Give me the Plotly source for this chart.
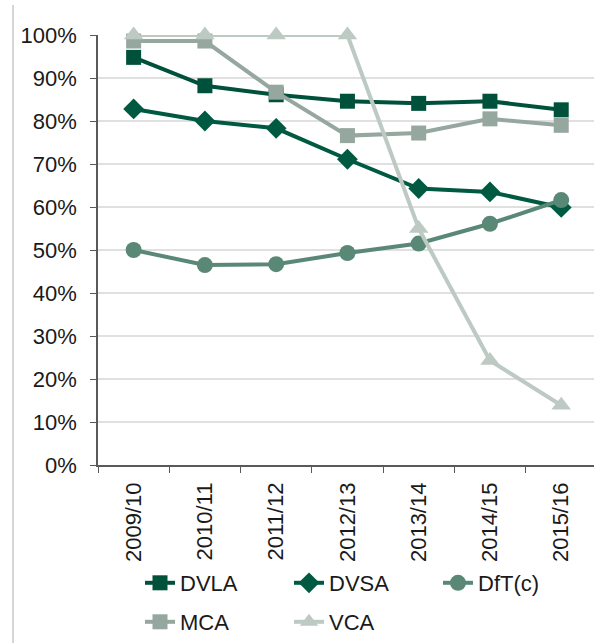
import plotly.graph_objects as go

years = ["2009/10", "2010/11", "2011/12", "2012/13", "2013/14", "2014/15", "2015/16"]

dvla = [94.8, 88.2, 86.1, 84.6, 84.1, 84.6, 82.6]
dvsa = [82.8, 80.0, 78.3, 71.1, 64.3, 63.5, 59.9]
dft_c = [50.0, 46.5, 46.7, 49.3, 51.5, 56.1, 61.6]
mca = [98.6, 98.6, 86.7, 76.6, 77.2, 80.5, 79.0]
vca = [100.0, 100.0, 100.0, 100.0, 55.0, 24.3, 13.9]

names = ["DVLA", "DVSA", "DfT(c)", "MCA", "VCA"]
colors = ["#00513B", "#005A42", "#5A8876", "#96A79F", "#BDCAC4"]
symbols = ["square", "diamond", "circle", "square", "triangle-up"]
sizes = [15, 16, 16, 15, 17]
legend_rows = ["legend", "legend", "legend", "legend2", "legend2"]

W, H = 594, 643
L, R, T, B = 98, 0, 35, 178
plot_w, plot_h = W - L - R, H - T - B

fig = go.Figure()
for name, vals, col, sym, sz, lg in zip(names, [dvla, dvsa, dft_c, mca, vca],
                                        colors, symbols, sizes, legend_rows):
    fig.add_trace(go.Scatter(
        x=years, y=vals, name=name, mode="lines+markers",
        line=dict(color=col, width=4),
        marker=dict(symbol=sym, size=sz, color=col),
        cliponaxis=False, legend=lg,
    ))


def px_x(px):
    return (px - L) / plot_w


def px_y(py):
    return (H - B - py) / plot_h


# thin frame line at the left edge of the chart area
fig.add_shape(type="line", xref="paper", yref="paper",
              x0=px_x(13), x1=px_x(13), y0=px_y(5), y1=px_y(643),
              line=dict(color="#C8C8C8", width=1.5))

font = "Liberation Sans, Arial, sans-serif"
legend_common = dict(
    orientation="h", xanchor="left", yanchor="middle",
    entrywidth=104, entrywidthmode="pixels",
    font=dict(size=22, family=font, color="#1A1A1A"),
    bgcolor="rgba(0,0,0,0)",
)
fig.update_layout(
    width=W, height=H,
    margin=dict(l=L, r=R, t=T, b=B),
    paper_bgcolor="white", plot_bgcolor="white",
    font=dict(family=font, size=22, color="#1A1A1A"),
    showlegend=True,
    legend=dict(x=px_x(140), y=px_y(583), **legend_common),
    legend2=dict(x=px_x(140), y=px_y(622), **legend_common),
    xaxis=dict(
        type="category", range=[-0.5, 6.46], automargin=False,
        tickangle=-90, showgrid=False,
        showline=True, linecolor="#595959", linewidth=1.5,
        ticks="outside", ticklen=6, tickcolor="#595959", tickson="boundaries",
        tickfont=dict(size=22), ticklabelstandoff=7,
    ),
    yaxis=dict(
        range=[0, 100], dtick=10, ticksuffix="%", automargin=False,
        showgrid=True, gridcolor="#E0E0E0", gridwidth=1.5,
        showline=True, linecolor="#595959", linewidth=1.5,
        ticks="outside", ticklen=6, tickcolor="#595959",
        tickfont=dict(size=22), zeroline=False, ticklabelstandoff=9,
    ),
)

fig.write_html("out.html")
